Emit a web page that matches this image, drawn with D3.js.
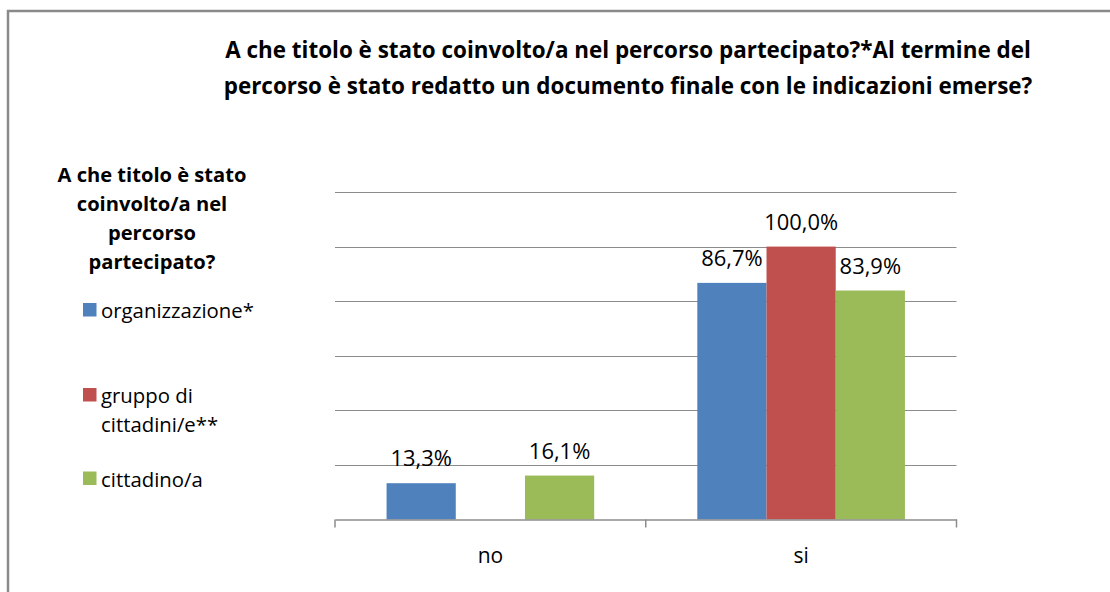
<!DOCTYPE html>
<html>
<head>
<meta charset="utf-8">
<script src="https://cdn.jsdelivr.net/npm/d3@7/dist/d3.min.js"></script>
<style>
  html, body { margin: 0; padding: 0; background: #fff; }
  svg { display: block; }
</style>
</head>
<body>
<script>
// ---- data ----
const categories = ["no", "si"];
const seriesNames = ["organizzazione*", "gruppo di cittadini/e**", "cittadino/a"];
const seriesLegendLines = [["organizzazione*"], ["gruppo di", "cittadini/e**"], ["cittadino/a"]];
const seriesColors = ["#4F81BD", "#C0504D", "#9BBB59"];
const organizzazione = [13.3, 86.7];
const gruppoCittadini = [null, 100.0];
const cittadino = [16.1, 83.9];
const yTicks = [0, 20, 40, 60, 80, 100, 120];
const titleLines = [
  "A che titolo è stato coinvolto/a nel percorso partecipato?*Al termine del",
  "percorso è stato redatto un documento finale con le indicazioni emerse?"
];
const legendTitleLines = ["A che titolo è stato", "coinvolto/a nel", "percorso", "partecipato?"];

const seriesValues = [organizzazione, gruppoCittadini, cittadino];

(function () {
const W = 1110, H = 592;
const svg = d3.select("body").append("svg").attr("width", W).attr("height", H);
const font = "'Open Sans', 'Noto Sans', sans-serif";

// scale a text element's font-size so its width matches a target width
function fitWidth(sel, target) {
  const node = sel.node();
  const w = node.getComputedTextLength();
  const fs = parseFloat(sel.attr("font-size"));
  if (w > 0) sel.attr("font-size", fs * target / w);
  return fs * target / w;
}

// frame
svg.append("rect").attr("x", 8).attr("y", 11).attr("width", 1200).attr("height", 700)
  .attr("fill", "none").attr("stroke", "#8a8a8a").attr("stroke-width", 2.5);

// title
const titleEls = titleLines.map((t, i) =>
  svg.append("text").attr("font-family", font).attr("font-weight", "bold")
    .attr("font-size", 20).attr("fill", "#000").attr("text-anchor", "middle")
    .attr("x", 628).attr("y", 58 + i * 36).text(t));
const tfs = fitWidth(titleEls[0], 806);
titleEls[1].attr("font-size", tfs);

// plot
const pLeft = 335, pRight = 956.5, pTop = 192, pBottom = 519.5;
const y = d3.scaleLinear().domain([0, 120]).range([pBottom, pTop]);
const x0 = d3.scaleBand().domain(categories).range([pLeft, pRight]).padding(0);
const x1 = d3.scaleBand().domain(d3.range(seriesNames.length)).range([0, x0.bandwidth()])
  .paddingInner(0).paddingOuter(0.745);

// gridlines
svg.append("g").selectAll("line").data(yTicks.filter(d => d > 0)).join("line")
  .attr("x1", pLeft).attr("x2", pRight)
  .attr("y1", d => Math.round(y(d)) + 0.5).attr("y2", d => Math.round(y(d)) + 0.5)
  .attr("stroke", "#8c8c8c").attr("stroke-width", 1);

// bars
const bars = [];
categories.forEach((c, ci) => {
  seriesValues.forEach((vals, si) => {
    if (vals[ci] != null) bars.push({ c, si, v: vals[ci] });
  });
});
svg.append("g").selectAll("rect").data(bars).join("rect")
  .attr("x", d => x0(d.c) + x1(d.si))
  .attr("width", x1.bandwidth())
  .attr("y", d => y(d.v))
  .attr("height", d => y(0) - y(d.v))
  .attr("fill", d => seriesColors[d.si]);

// x axis
const xAxis = d3.axisBottom(x0).tickSizeInner(0).tickSizeOuter(0);
const gx = svg.append("g").attr("transform", `translate(0,${pBottom})`).call(xAxis);
gx.select(".domain").attr("stroke", "#8c8c8c").attr("stroke-width", 1.5);
gx.selectAll("text").attr("font-family", font).attr("font-size", 21).attr("fill", "#000")
  .attr("y", 43.5).attr("dy", null);
// category separators ticks
const sepPos = [pLeft, x0("si"), pRight];
svg.append("g").selectAll("line").data(sepPos).join("line")
  .attr("x1", d => d).attr("x2", d => d).attr("y1", pBottom).attr("y2", pBottom + 8)
  .attr("stroke", "#8c8c8c").attr("stroke-width", 1.5);

// data labels
const fmt = v => d3.format(".1f")(v).replace(".", ",") + "%";
const labels = svg.append("g").selectAll("text").data(bars).join("text")
  .attr("x", d => x0(d.c) + x1(d.si) + x1.bandwidth() / 2)
  .attr("y", d => y(d.v) - 17)
  .attr("text-anchor", "middle")
  .attr("font-family", font).attr("font-size", 20).attr("fill", "#000")
  .text(d => fmt(d.v));
// size labels so "100,0%" is as wide as in the reference
const refLabel = labels.filter(d => d.v === 100);
const lfs = fitWidth(refLabel, 74);
labels.attr("font-size", lfs);

// legend title
const ltEls = legendTitleLines.map((t, i) =>
  svg.append("text").attr("font-family", font).attr("font-weight", "bold")
    .attr("font-size", 19).attr("fill", "#000").attr("text-anchor", "middle")
    .attr("x", 152).attr("y", 182 + i * 29).text(t));
const ltfs = fitWidth(ltEls[0], 189);
ltEls.forEach(e => e.attr("font-size", ltfs));

// legend items
const legendY = [310, 395, 478.5];
const legendTexts = [];
seriesNames.forEach((n, i) => {
  const g = svg.append("g");
  g.append("rect").attr("x", 83).attr("y", legendY[i] - 7).attr("width", 13.5).attr("height", 13.5)
    .attr("fill", seriesColors[i]);
  seriesLegendLines[i].forEach((ln, j) => {
    legendTexts.push(g.append("text").attr("x", 101).attr("y", legendY[i] + 8 + j * 29)
      .attr("font-family", font).attr("font-size", 20).attr("fill", "#000").text(ln));
  });
});
const lgfs = fitWidth(legendTexts[0], 153);
legendTexts.forEach(e => e.attr("font-size", lgfs));
})();
</script>
</body>
</html>
